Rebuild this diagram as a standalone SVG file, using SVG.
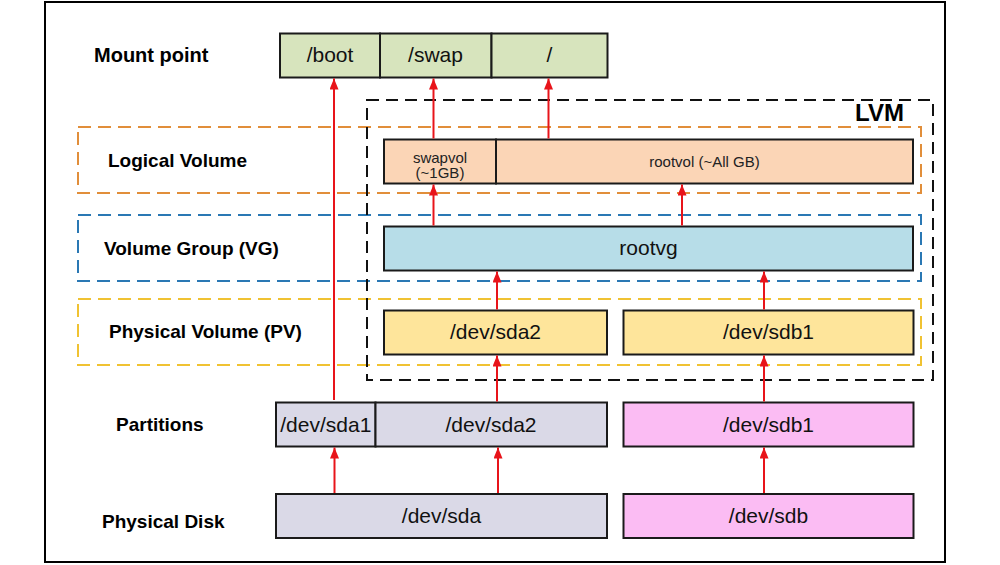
<svg xmlns="http://www.w3.org/2000/svg" width="1000" height="565" viewBox="0 0 1000 565">
<defs>
<style>
.lbl{font-family:"Liberation Sans",Arial,sans-serif;font-weight:bold;font-size:19px;fill:#000}
.t{font-family:"Liberation Sans",Arial,sans-serif;font-size:21px;fill:#111;text-anchor:middle}
.ts{font-family:"Liberation Sans",Arial,sans-serif;font-size:15px;fill:#222;text-anchor:middle}
.box{stroke:#1a1a1a;stroke-width:2}
.layer{fill:none;stroke-width:2;stroke-dasharray:13 7}
.conn{stroke:#e8141a;stroke-width:2;fill:none;marker-end:url(#ah)}
</style>
<marker id="ah" markerUnits="userSpaceOnUse" markerWidth="12" markerHeight="9" refX="11" refY="4.5" orient="auto">
<path d="M0,0 L11,4.5 L0,9 z" fill="#e8141a"/>
</marker>
</defs>
<rect x="0" y="0" width="1000" height="565" fill="#fff"/>
<rect x="45" y="2" width="900" height="560" fill="#fff" stroke="#000" stroke-width="2"/>

<g id="layer-lv">
<rect class="layer" x="78" y="127" width="843" height="66" stroke="#e18e3a"/>
<text class="lbl" x="108" y="167">Logical Volume</text>
</g>
<g id="layer-vg">
<rect class="layer" x="78" y="215" width="843" height="66" stroke="#2a78b4"/>
<text class="lbl" x="104" y="255">Volume Group (VG)</text>
</g>
<g id="layer-pv">
<rect class="layer" x="78" y="299" width="843" height="66" stroke="#f0c232"/>
<text class="lbl" x="109" y="338">Physical Volume (PV)</text>
</g>
<g id="lvm">
<rect x="367" y="100" width="566" height="280" fill="none" stroke="#111" stroke-width="2" stroke-dasharray="12 7"/>
<text x="904" y="121" style="font-family:'Liberation Sans',Arial,sans-serif;font-weight:bold;font-size:24px;text-anchor:end">LVM</text>
</g>
<g id="label-mount"><text class="lbl" x="94" y="61.5" style="font-size:20px">Mount point</text></g>
<g id="label-partitions"><text class="lbl" x="116" y="431">Partitions</text></g>
<g id="label-disk"><text class="lbl" x="102" y="528">Physical Disk</text></g>

<g id="mp-boot"><rect class="box" x="280" y="33.5" width="100" height="44" fill="#d7e4bd"/><text class="t" x="330" y="62">/boot</text></g>
<g id="mp-swap"><rect class="box" x="380" y="33.5" width="111.5" height="44" fill="#d7e4bd"/><text class="t" x="435.5" y="62">/swap</text></g>
<g id="mp-root"><rect class="box" x="491.5" y="33.5" width="116" height="44" fill="#d7e4bd"/><text class="t" x="549.5" y="62">/</text></g>

<g id="lv-swapvol"><rect class="box" x="384" y="139.5" width="112" height="44" fill="#fbd5b6"/><text class="ts" x="440" y="162.5">swapvol</text><text class="ts" x="440" y="177.5">(~1GB)</text></g>
<g id="lv-rootvol"><rect class="box" x="496" y="139.5" width="417" height="44" fill="#fbd5b6"/><text class="ts" x="704.5" y="166.5">rootvol (~All GB)</text></g>

<g id="vg-rootvg"><rect class="box" x="384" y="226.5" width="529" height="44" fill="#b7dde8"/><text class="t" x="648.5" y="255">rootvg</text></g>

<g id="pv-sda2"><rect class="box" x="384" y="310.5" width="223" height="44" fill="#fee59b"/><text class="t" x="495.5" y="339">/dev/sda2</text></g>
<g id="pv-sdb1"><rect class="box" x="623.5" y="310.5" width="290" height="44" fill="#fee59b"/><text class="t" x="768.5" y="339">/dev/sdb1</text></g>

<g id="part-sda1"><rect class="box" x="276" y="402.5" width="99.5" height="44" fill="#dad9e7"/><text class="t" x="325.8" y="431.5">/dev/sda1</text></g>
<g id="part-sda2"><rect class="box" x="375.5" y="402.5" width="231.5" height="44" fill="#dad9e7"/><text class="t" x="491" y="431.5">/dev/sda2</text></g>
<g id="part-sdb1"><rect class="box" x="623.5" y="402.5" width="290" height="44" fill="#fbbcf3"/><text class="t" x="768.5" y="431.5">/dev/sdb1</text></g>

<g id="disk-sda"><rect class="box" x="276" y="494" width="331" height="44" fill="#dad9e7"/><text class="t" x="441.5" y="522.5">/dev/sda</text></g>
<g id="disk-sdb"><rect class="box" x="623.5" y="494" width="290" height="44" fill="#fbbcf3"/><text class="t" x="768.5" y="522.5">/dev/sdb</text></g>

<g id="connectors">
<line class="conn" x1="334.5" y1="493" x2="334.5" y2="447.5"/>
<line class="conn" x1="498" y1="493" x2="498" y2="447.5"/>
<line class="conn" x1="764" y1="493" x2="764" y2="447.5"/>
<line class="conn" x1="334" y1="400" x2="334" y2="78.5"/>
<line class="conn" x1="497" y1="401.5" x2="497" y2="355.5"/>
<line class="conn" x1="764" y1="401.5" x2="764" y2="355.5"/>
<line class="conn" x1="497" y1="309.5" x2="497" y2="271.5"/>
<line class="conn" x1="764" y1="309.5" x2="764" y2="271.5"/>
<line class="conn" x1="433.5" y1="225.5" x2="433.5" y2="184.5"/>
<line class="conn" x1="682" y1="225.5" x2="682" y2="184.5"/>
<line class="conn" x1="433.5" y1="138.5" x2="433.5" y2="78.5"/>
<line class="conn" x1="548.5" y1="138.5" x2="548.5" y2="78.5"/>
</g>
</svg>
